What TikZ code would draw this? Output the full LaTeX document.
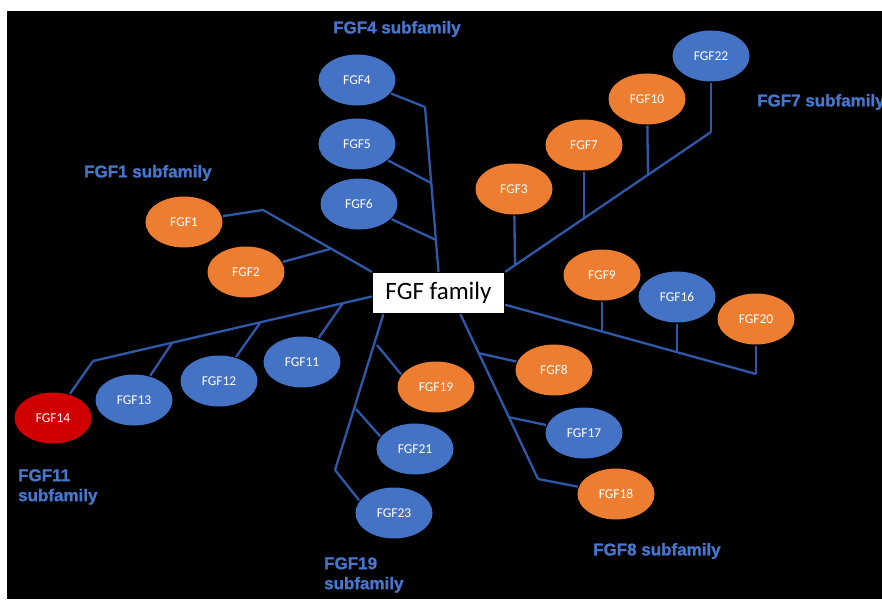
\documentclass[tikz,border=0pt]{standalone}
\usepackage{fontspec}
\setmainfont{Carlito}
\newfontfamily\labelfont{Liberation Sans}[BoldFeatures={FakeBold=1.2}]
\usepackage{tikz}
\usetikzlibrary{shapes.geometric}
\definecolor{fgfblue}{RGB}{68,114,196}
\definecolor{fgforange}{RGB}{237,125,49}
\definecolor{fgfred}{RGB}{208,0,0}
\definecolor{linkblue}{RGB}{48,88,168}
\definecolor{titleblue}{RGB}{70,118,205}

\begin{document}
\begin{tikzpicture}[x=1pt,y=-1pt,line width=2.3pt,
  every edge/.style={draw=linkblue},
  gene/.style={ellipse,minimum width=77pt,minimum height=51pt,inner sep=0pt,
    text=white,font=\fontsize{13.5}{15}\selectfont},
  blue node/.style={gene,fill=fgfblue},
  orange node/.style={gene,fill=fgforange},
  red node/.style={gene,fill=fgfred},
  family node/.style={fill=white,inner sep=0pt,minimum width=131pt,minimum height=40pt,
    font=\fontsize{25}{30}\selectfont},
  sub label/.style={anchor=west,align=left,inner sep=0pt,text=titleblue,
    font=\labelfont\bfseries\fontsize{17}{20}\selectfont}]

  \useasboundingbox (0,0) rectangle (882,599);
  \fill[white] (0,0) rectangle (882,599);
  \fill[black] (7,11) rectangle (882,599);

  \node[family node] (fam) at (438.5,293) {FGF family};

  \node[blue node] (FGF4) at (357,80) {FGF4};
  \node[blue node] (FGF5) at (357,144) {FGF5};
  \node[blue node] (FGF6) at (359,204) {FGF6};
  \node[orange node] (FGF1) at (184,222) {FGF1};
  \node[orange node] (FGF2) at (246,272) {FGF2};
  \node[orange node] (FGF3) at (514,189) {FGF3};
  \node[orange node] (FGF7) at (584,145) {FGF7};
  \node[orange node] (FGF10) at (647,99) {FGF10};
  \node[blue node] (FGF22) at (711,56) {FGF22};
  \node[orange node] (FGF9) at (602,275) {FGF9};
  \node[blue node] (FGF16) at (677,297) {FGF16};
  \node[orange node] (FGF20) at (756,319) {FGF20};
  \node[orange node] (FGF8) at (554,370) {FGF8};
  \node[blue node] (FGF17) at (584,433) {FGF17};
  \node[orange node] (FGF18) at (616,494) {FGF18};
  \node[orange node] (FGF19) at (436,387) {FGF19};
  \node[blue node] (FGF21) at (415,449) {FGF21};
  \node[blue node] (FGF23) at (394,513) {FGF23};
  \node[blue node] (FGF11) at (302,362) {FGF11};
  \node[blue node] (FGF12) at (219,381) {FGF12};
  \node[blue node] (FGF13) at (134,400) {FGF13};
  \node[red node] (FGF14) at (53,418) {FGF14};

  \coordinate (j4) at (425,107);
  \coordinate (j5) at (431,183);
  \coordinate (j6) at (436,240);
  \coordinate (j1) at (263,210);
  \coordinate (j2) at (330,249);
  \coordinate (j3) at (515,265);
  \coordinate (j7) at (584,219);
  \coordinate (j10) at (648,175);
  \coordinate (j22) at (711,132);
  \coordinate (j9) at (602,332);
  \coordinate (j16) at (677,352);
  \coordinate (j20) at (756,374);
  \coordinate (j8) at (478,353);
  \coordinate (j17) at (508,417);
  \coordinate (j18) at (538,479);
  \coordinate (j19) at (377,345);
  \coordinate (j21) at (356,409);
  \coordinate (j23) at (335,470);
  \coordinate (j11) at (343,303);
  \coordinate (j12) at (260,323);
  \coordinate (j13) at (172,343);
  \coordinate (j14) at (93,361);

  \path
    (FGF4) edge (j4)
    (FGF5) edge (j5)
    (FGF6) edge (j6)
    (j4) edge (fam.north)
    (FGF1) edge (j1)
    (FGF2) edge (j2)
    (j1) edge (fam.north west)
    (FGF3) edge (j3)
    (FGF7) edge (j7)
    (FGF10) edge (j10)
    (FGF22) edge (j22)
    (fam.north east) edge (j22)
    (FGF9) edge (j9)
    (FGF16) edge (j16)
    (FGF20) edge (j20)
    (fam.-10) edge (j20)
    (FGF8) edge (j8)
    (FGF17) edge (j17)
    (FGF18) edge (j18)
    (fam.-44) edge (j18)
    (FGF19.160) edge (j19)
    (FGF21.160) edge (j21)
    (FGF23.160) edge (j23)
    (fam.201) edge (j23)
    (FGF11) edge (j11)
    (FGF12) edge (j12)
    (FGF13) edge (j13)
    (FGF14) edge (j14)
    (fam.183) edge (j14);

  \node[sub label] (lab4) at (332,29) {FGF4 subfamily};
  \node[sub label] (lab1) at (83,173) {FGF1 subfamily};
  \node[sub label] (lab7) at (756,102) {FGF7 subfamily};
  \node[sub label] (lab11) at (17,487) {FGF11\\subfamily};
  \node[sub label] (lab19) at (323,575) {FGF19\\subfamily};
  \node[sub label] (lab8) at (592,551) {FGF8 subfamily};
\end{tikzpicture}
\end{document}
